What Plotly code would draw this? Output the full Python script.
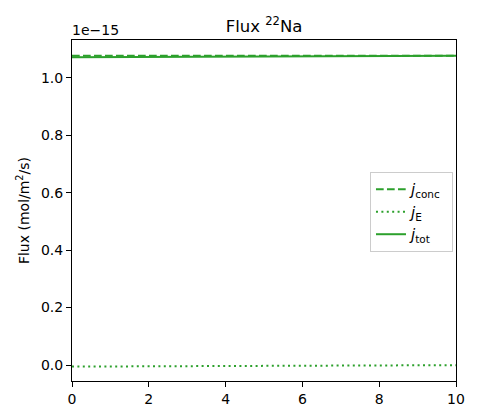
import plotly.graph_objects as go

# time values (x axis)
t = [0, 1, 2, 3, 4, 5, 6, 7, 8, 9, 10]
# fluxes in units of 1e-15 mol/m^2/s
j_conc = [1.0775, 1.0775, 1.0775, 1.0775, 1.0775, 1.0775, 1.0775, 1.0775, 1.0775, 1.0775, 1.0775]
j_E = [-0.0055, -0.0050, -0.0045, -0.0040, -0.0035, -0.0030, -0.0025, -0.0020, -0.0015, -0.0010, -0.0005]
j_tot = [c + e for c, e in zip(j_conc, j_E)]

x_ticks = [0, 2, 4, 6, 8, 10]
y_ticks = [0.0, 0.2, 0.4, 0.6, 0.8, 1.0]
y_ticklabels = ["0.0", "0.2", "0.4", "0.6", "0.8", "1.0"]

green = "#2ca02c"
fig = go.Figure()
fig.add_trace(go.Scatter(x=t, y=j_conc, mode="lines", name="<i>j</i><sub>conc</sub> ",
                         line=dict(color=green, width=2, dash="7.7px,3.3px")))
fig.add_trace(go.Scatter(x=t, y=j_E, mode="lines", name="<i>j</i><sub>E</sub>",
                         line=dict(color=green, width=2, dash="2px,3.4px")))
fig.add_trace(go.Scatter(x=t, y=j_tot, mode="lines", name="<i>j</i><sub>tot</sub>",
                         line=dict(color=green, width=2)))

axis_common = dict(showline=True, linecolor="black", linewidth=1, mirror=True,
                   ticks="outside", ticklen=5, tickwidth=1, tickcolor="black",
                   showgrid=False, zeroline=False,
                   tickfont=dict(family="DejaVu Sans", size=14, color="black"))

fig.update_layout(
    width=480, height=420,
    margin=dict(l=72, r=24, t=40, b=39),
    paper_bgcolor="white", plot_bgcolor="white",
    font=dict(family="DejaVu Sans", size=14, color="black"),
    title=dict(text="Flux <sup>22</sup>Na", x=(72 + 192) / 480, xanchor="center",
               y=1 - 26 / 420, yanchor="middle", font=dict(size=16.5, family="DejaVu Sans")),
    xaxis=dict(range=[0, 10], tickvals=x_ticks, **axis_common),
    yaxis=dict(range=[-0.0557, 1.132], tickvals=y_ticks, ticktext=y_ticklabels,
               title=dict(text="Flux (mol/m<sup>2</sup>/s)", font=dict(size=14), standoff=8),
               **axis_common),
    legend=dict(x=0.776, y=0.613, xanchor="left", yanchor="top",
                bgcolor="white", bordercolor="#cccccc", borderwidth=1,
                font=dict(size=15, family="DejaVu Sans")),
    showlegend=True,
)
fig.add_annotation(text="1e\u221215", xref="paper", yref="paper", x=0, y=1,
                   xanchor="left", yanchor="bottom", showarrow=False,
                   font=dict(size=14, family="DejaVu Sans"), xshift=-2, yshift=0)

fig.write_html("out.html", config={"displayModeBar": False},
               post_script="document.body.style.margin='0';")
